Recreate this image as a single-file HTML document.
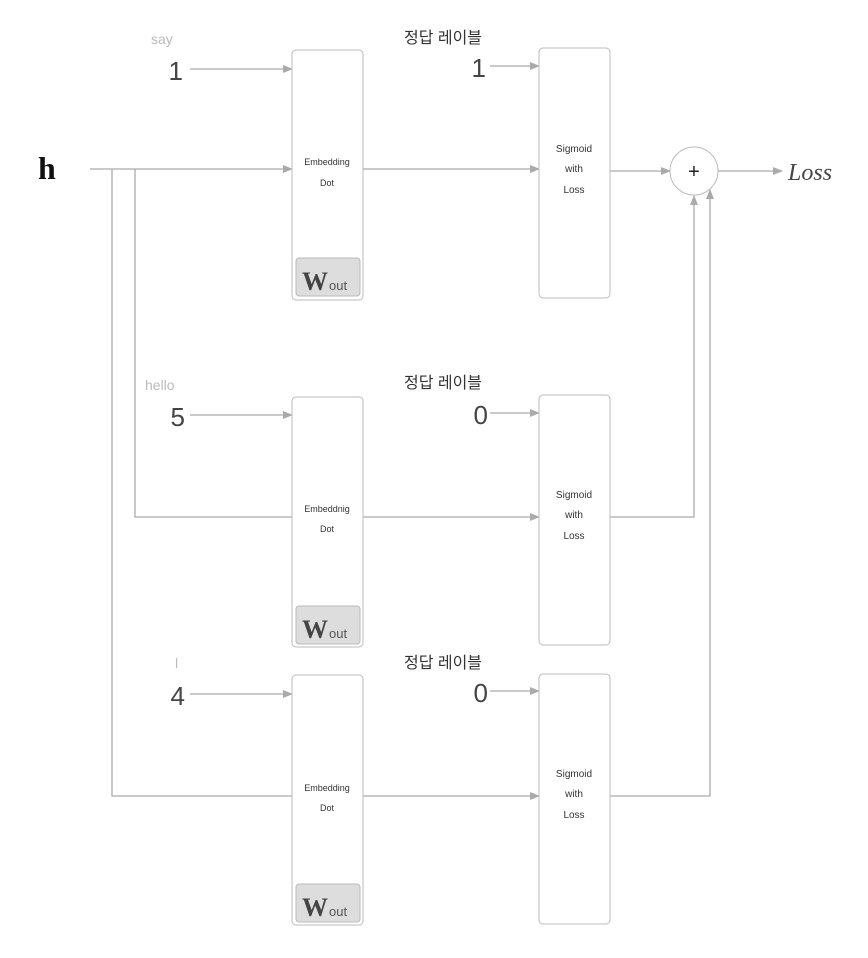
<!DOCTYPE html>
<html><head><meta charset="utf-8"><style>
html,body{margin:0;padding:0;background:#fff;width:868px;height:958px;overflow:hidden}
svg text{font-family:"Liberation Sans","Noto Sans CJK KR",sans-serif}
</style></head><body>
<svg width="868" height="958" viewBox="0 0 868 958" xmlns="http://www.w3.org/2000/svg">
<defs><marker id="a" markerWidth="10" markerHeight="8" refX="9" refY="4" orient="auto" markerUnits="userSpaceOnUse"><path d="M0,0 L10,4 L0,8 z" fill="#aaa"/></marker></defs>
<g stroke="#aaa" stroke-width="1.3" fill="none">
<!-- h lines -->
<line x1="90" y1="169" x2="292" y2="169" marker-end="url(#a)"/>
<polyline points="112,169 112,796 539,796" marker-end="url(#a)"/>
<polyline points="135,169 135,517 539,517" marker-end="url(#a)"/>
<line x1="363" y1="169" x2="539" y2="169" marker-end="url(#a)"/>
<line x1="610" y1="171" x2="670" y2="171" marker-end="url(#a)"/>
<line x1="718" y1="171" x2="782" y2="171" marker-end="url(#a)"/>
<polyline points="610,517 694,517 694,196" marker-end="url(#a)"/>
<polyline points="610,796 710,796 710,190" marker-end="url(#a)"/>
<!-- inputs -->
<line x1="190" y1="69" x2="292" y2="69" marker-end="url(#a)"/>
<line x1="490" y1="66" x2="539" y2="66" marker-end="url(#a)"/>
<line x1="190" y1="415" x2="292" y2="415" marker-end="url(#a)"/>
<line x1="490" y1="413" x2="539" y2="413" marker-end="url(#a)"/>
<line x1="190" y1="694" x2="292" y2="694" marker-end="url(#a)"/>
<line x1="490" y1="691" x2="539" y2="691" marker-end="url(#a)"/>
</g>
<g stroke="#bbb" stroke-width="1" fill="#fff">
<rect x="292" y="50" width="71" height="250" rx="4"/>
<rect x="539" y="48" width="71" height="250" rx="4"/>
<rect x="292" y="397" width="71" height="250" rx="4"/>
<rect x="539" y="395" width="71" height="250" rx="4"/>
<rect x="292" y="675" width="71" height="250" rx="4"/>
<rect x="539" y="674" width="71" height="250" rx="4"/>
<circle cx="694" cy="171" r="24"/>
</g>
<g fill="#ddd" stroke="#bbb">
<rect x="296" y="258" width="64" height="38" rx="3"/>
<rect x="296" y="606" width="64" height="38" rx="3"/>
<rect x="296" y="884" width="64" height="38" rx="3"/>
</g>
<g font-size="9" fill="#333" text-anchor="middle">
<text x="327" y="165">Embedding</text><text x="327" y="186">Dot</text>
<text x="327" y="512">Embeddnig</text><text x="327" y="532">Dot</text>
<text x="327" y="791">Embedding</text><text x="327" y="811">Dot</text>
<text x="574" y="152" font-size="10">Sigmoid</text><text x="574" y="172" font-size="10">with</text><text x="574" y="193" font-size="10">Loss</text>
<text x="574" y="498" font-size="10">Sigmoid</text><text x="574" y="518" font-size="10">with</text><text x="574" y="539" font-size="10">Loss</text>
<text x="574" y="777" font-size="10">Sigmoid</text><text x="574" y="797" font-size="10">with</text><text x="574" y="818" font-size="10">Loss</text>
</g>
<g fill="#444">
<text x="302" y="290" font-family="Liberation Serif" font-weight="bold" font-size="26" style="font-family:'Liberation Serif',serif">W</text><text x="329" y="290" font-size="13" fill="#555">out</text>
<text x="302" y="638" font-weight="bold" font-size="26" style="font-family:'Liberation Serif',serif">W</text><text x="329" y="638" font-size="13" fill="#555">out</text>
<text x="302" y="916" font-weight="bold" font-size="26" style="font-family:'Liberation Serif',serif">W</text><text x="329" y="916" font-size="13" fill="#555">out</text>
</g>
<text x="38" y="179" font-size="32" font-weight="bold" fill="#111" style="font-family:'Liberation Serif',serif">h</text>
<text x="788" y="180" font-size="24" font-style="italic" fill="#444" style="font-family:'Liberation Serif',serif">Loss</text>
<text x="694" y="178" font-size="20" text-anchor="middle" fill="#222">+</text>
<g fill="#bbb" font-size="14">
<text x="151" y="44">say</text><text x="145" y="390">hello</text><text x="175" y="668">l</text>
</g>
<g fill="#444" font-size="26" text-anchor="end">
<text x="183" y="80">1</text><text x="486" y="77">1</text>
<text x="185" y="426">5</text><text x="488" y="424">0</text>
<text x="185" y="705">4</text><text x="488" y="702">0</text>
</g>
<g fill="#333" font-size="16" text-anchor="middle">
<text x="443" y="43">정답 레이블</text><text x="443" y="388">정답 레이블</text><text x="443" y="668">정답 레이블</text>
</g>
</svg>
</body></html>
